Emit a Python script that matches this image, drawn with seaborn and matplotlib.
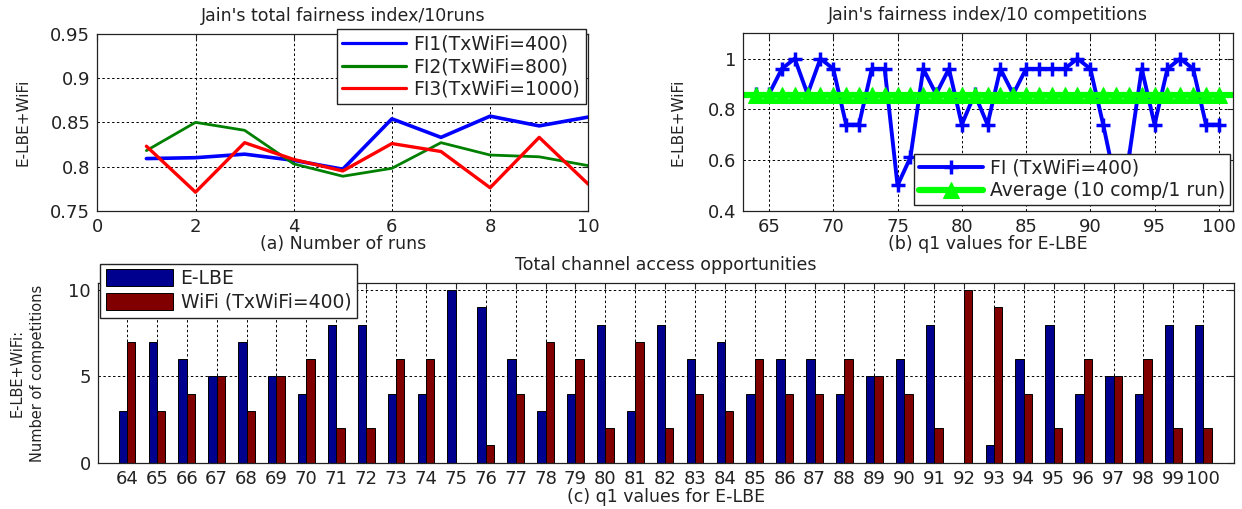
import matplotlib
matplotlib.use("Agg")
import matplotlib.pyplot as plt
from matplotlib.ticker import FormatStrFormatter
import pandas as pd
import seaborn as sns

# (a) fairness index over 10 runs
runs = [1, 2, 3, 4, 5, 6, 7, 8, 9, 10]
fi1_400 = [0.809, 0.810, 0.814, 0.807, 0.797, 0.854, 0.833, 0.857, 0.846, 0.856]
fi2_800 = [0.818, 0.850, 0.841, 0.803, 0.789, 0.798, 0.827, 0.813, 0.811, 0.801]
fi3_1000 = [0.823, 0.771, 0.827, 0.808, 0.795, 0.826, 0.817, 0.776, 0.833, 0.780]

# (b) fairness index per q1 value
q1 = list(range(64, 101))
fi_q1 = [0.86, 0.86, 0.96, 1.00, 0.86, 1.00, 0.96, 0.74, 0.74, 0.96,
         0.96, 0.50, 0.61, 0.96, 0.86, 0.96, 0.74, 0.86, 0.74, 0.96,
         0.86, 0.96, 0.96, 0.96, 0.96, 1.00, 0.96, 0.74, 0.50, 0.61,
         0.96, 0.74, 0.96, 1.00, 0.96, 0.74, 0.74]
avg_x = list(range(63, 102))
avg_fi = 0.855

# (c) channel access opportunities per q1 value
elbe_counts = [3, 7, 6, 5, 7, 5, 4, 8, 8, 4, 4, 10, 9, 6, 3, 4, 8, 3, 8, 6,
               7, 4, 6, 6, 4, 5, 6, 8, 0, 1, 6, 8, 4, 5, 4, 8, 8]
wifi_counts = [7, 3, 4, 5, 3, 5, 6, 2, 2, 6, 6, 0, 1, 4, 7, 6, 2, 7, 2, 4,
               3, 6, 4, 4, 6, 5, 4, 2, 10, 9, 4, 2, 6, 5, 6, 2, 2]

sns.set_style("white")
plt.rcParams['font.family'] = ['DejaVu Sans']
plt.rcParams['text.color'] = '#222222'
plt.rcParams['axes.labelcolor'] = '#222222'
plt.rcParams['xtick.color'] = '#222222'
plt.rcParams['ytick.color'] = '#222222'

W, H = 1242, 509
fig = plt.figure(figsize=(W / 100, H / 100), dpi=100)
ax1 = fig.add_axes([97.3 / W, 1 - 210.7 / H, 491 / W, 176.7 / H])
ax2 = fig.add_axes([743.3 / W, 1 - 210.7 / H, 489.7 / W, 177.4 / H])
ax3 = fig.add_axes([97.7 / W, 1 - 462.7 / H, 1136.3 / W, 179.4 / H])

grid_kw = dict(color='black', linestyle=(0, (2.5, 2.5)), linewidth=0.7)
leg_kw = dict(fontsize=13.5, frameon=True, fancybox=False, edgecolor='#222222',
              framealpha=1, handletextpad=0.4, borderaxespad=0)


def style_axes(ax):
    for sp in ax.spines.values():
        sp.set_color('#222222')
        sp.set_linewidth(0.9)
    ax.tick_params(direction='in', top=True, right=True, length=4,
                   width=0.8, labelsize=13, pad=5)
    ax.grid(True, **grid_kw)
    ax.set_axisbelow(True)


# ---- (a)
df_a = pd.DataFrame({
    'run': runs * 3,
    'fi': fi1_400 + fi2_800 + fi3_1000,
    'series': ['FI1(TxWiFi=400)'] * 10 + ['FI2(TxWiFi=800)'] * 10 + ['FI3(TxWiFi=1000)'] * 10,
})
pal_a = {'FI1(TxWiFi=400)': '#0000ff', 'FI2(TxWiFi=800)': '#008000', 'FI3(TxWiFi=1000)': '#ff0000'}
sns.lineplot(data=df_a, x='run', y='fi', hue='series', palette=pal_a, linewidth=2.3, ax=ax1)
for ln, lw in zip(ax1.get_lines(), [2.6, 2.0, 2.4]):
    ln.set_linewidth(lw)
ax1.set_xlim(0, 10)
ax1.set_ylim(0.75, 0.95)
ax1.set_xticks([0, 2, 4, 6, 8, 10])
ax1.set_yticks([0.75, 0.8, 0.85, 0.9, 0.95])
ax1.yaxis.set_major_formatter(FormatStrFormatter('%g'))
style_axes(ax1)
h, l = ax1.get_legend_handles_labels()
ax1.legend(h, l, loc='upper right', bbox_to_anchor=(0.995, 1.03),
           handlelength=3.4, labelspacing=0.2, borderpad=0.3, **leg_kw)
ax1.set_xlabel('(a) Number of runs', fontsize=12.5, va='center')
ax1.xaxis.set_label_coords(0.5, -0.19)
ax1.set_ylabel('E-LBE+WiFi', fontsize=11, va='center')
ax1.yaxis.set_label_coords(-0.151, 0.5)
ax1.text(0.5, 1.104, "Jain's total fairness index/10runs", transform=ax1.transAxes,
         ha='center', va='center', fontsize=12.5)

# ---- (b)
sns.lineplot(x=q1, y=fi_q1, color='#0000ff', linewidth=2.8, marker='+',
             markersize=10, markeredgewidth=2.5, markeredgecolor='#0000ff',
             label='FI (TxWiFi=400)', ax=ax2)
sns.lineplot(x=avg_x, y=[avg_fi] * len(avg_x), color='#00ff00', linewidth=4.5,
             marker='^', markersize=11, markeredgecolor='#00ff00',
             markevery=slice(1, -1), label='Average (10 comp/1 run)', ax=ax2)
ax2.set_xlim(63, 101.1)
ax2.set_ylim(0.4, 1.1)
ax2.set_xticks([65, 70, 75, 80, 85, 90, 95, 100])
ax2.set_yticks([0.4, 0.6, 0.8, 1.0])
ax2.yaxis.set_major_formatter(FormatStrFormatter('%g'))
style_axes(ax2)
h, l = ax2.get_legend_handles_labels()
ax2.legend(h, l, loc='lower right', bbox_to_anchor=(0.994, 0.032),
           handlelength=3.4, labelspacing=0.2, borderpad=0.25, **leg_kw)
ax2.set_xlabel('(b) q1 values for E-LBE', fontsize=12.5, va='center')
ax2.xaxis.set_label_coords(0.5, -0.19)
ax2.set_ylabel('E-LBE+WiFi', fontsize=11, va='center')
ax2.yaxis.set_label_coords(-0.133, 0.5)
ax2.text(0.5, 1.104, "Jain's fairness index/10 competitions", transform=ax2.transAxes,
         ha='center', va='center', fontsize=12.5)

# ---- (c)
df_c = pd.DataFrame({
    'q1': q1 * 2,
    'count': elbe_counts + wifi_counts,
    'series': ['E-LBE'] * len(q1) + ['WiFi (TxWiFi=400)'] * len(q1),
})
pal_c = {'E-LBE': '#00008f', 'WiFi (TxWiFi=400)': '#800000'}
sns.barplot(data=df_c, x='q1', y='count', hue='series', palette=pal_c, width=0.56,
            saturation=1, edgecolor='black', linewidth=0.7, ax=ax3)
ax3.set_xlim(-0.98, 37.03)
ax3.set_ylim(0, 10.4)
ax3.set_yticks([0, 5, 10])
style_axes(ax3)
ax3.set_xlabel('(c) q1 values for E-LBE', fontsize=12.5, va='center')
ax3.xaxis.set_label_coords(0.5, -0.191)
h, l = ax3.get_legend_handles_labels()
ax3.legend(h, l, loc='upper left', bbox_to_anchor=(0.002, 1.11),
           handlelength=3.6, handleheight=1.0, labelspacing=0.25, borderpad=0.3,
           **leg_kw)
ax3.set_ylabel('E-LBE+WiFi:\nNumber of competitions', fontsize=10.5, va='center',
               linespacing=1.5)
ax3.yaxis.set_label_coords(-0.062, 0.5)
ax3.text(0.5, 1.102, 'Total channel access opportunities', transform=ax3.transAxes,
         ha='center', va='center', fontsize=12.5)

fig.savefig('out.png', dpi=100)
